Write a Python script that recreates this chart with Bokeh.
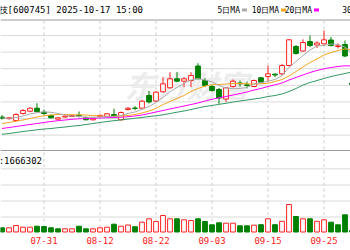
from bokeh.plotting import figure
from bokeh.models import Range1d, ColumnDataSource
from bokeh.core.properties import value
from bokeh.embed import file_html
from bokeh.resources import INLINE

# ---------------- data ----------------
dates = ["07-23", "07-24", "07-25", "07-28", "07-29", "07-30", "07-31", "08-01", "08-04", "08-05",
         "08-06", "08-07", "08-08", "08-11", "08-12", "08-13", "08-14", "08-15", "08-18", "08-19",
         "08-20", "08-21", "08-22", "08-25", "08-26", "08-27", "08-28", "08-29", "09-01", "09-02",
         "09-03", "09-04", "09-05", "09-08", "09-09", "09-10", "09-11", "09-12", "09-15", "09-16",
         "09-17", "09-18", "09-19", "09-22", "09-23", "09-24", "09-25", "09-26", "09-29", "09-30",
         "10-09"]

open_ = [33.90, 33.56, 33.20, 34.60, 35.06, 35.66, 34.86, 34.20, 33.46, 33.90,
         34.00, 34.26, 33.74, 33.34, 34.00, 34.00, 34.40, 33.34, 35.40, 35.70,
         35.66, 38.20, 37.10, 38.94, 39.74, 41.54, 41.06, 41.20, 44.10, 41.20,
         40.00, 39.40, 37.50, 40.00, 40.70, 40.34, 40.00, 41.74, 42.00, 42.46,
         42.54, 44.20, 48.00, 47.10, 49.00, 48.30, 48.54, 49.30, 48.00, 48.40,
         40.70]
high = [34.26, 33.90, 34.66, 35.50, 35.86, 36.66, 35.40, 34.40, 33.86, 34.20,
        34.30, 35.00, 33.86, 33.80, 34.40, 34.66, 35.54, 35.00, 35.86, 36.06,
        37.30, 39.10, 39.10, 41.86, 42.86, 42.86, 41.86, 42.86, 44.66, 41.66,
        40.40, 39.70, 39.90, 41.40, 41.20, 41.00, 41.40, 41.86, 44.20, 42.66,
        44.54, 49.50, 48.30, 49.44, 50.20, 49.06, 51.20, 49.90, 48.66, 49.20,
        40.80]
low = [33.40, 33.40, 33.00, 34.40, 34.86, 34.80, 34.26, 33.60, 33.34, 33.80,
       33.90, 33.80, 33.26, 33.20, 33.80, 33.90, 33.86, 33.20, 35.20, 35.26,
       35.54, 36.60, 36.90, 38.80, 39.60, 40.86, 39.86, 39.86, 41.46, 39.86,
       39.00, 36.54, 36.90, 39.80, 40.00, 39.60, 39.86, 40.80, 41.00, 41.86,
       42.20, 44.00, 46.40, 47.00, 47.86, 47.70, 48.40, 48.00, 47.60, 45.86,
       40.30]
close = [33.60, 33.76, 34.40, 35.20, 35.66, 34.96, 34.60, 33.74, 33.74, 34.06,
         34.20, 34.14, 33.34, 33.66, 34.24, 34.54, 34.00, 34.80, 35.66, 35.60,
         37.06, 36.90, 38.86, 40.54, 41.54, 41.06, 41.54, 42.20, 41.54, 40.20,
         39.20, 37.70, 39.74, 41.06, 40.54, 40.20, 41.20, 40.86, 42.54, 42.30,
         44.20, 49.34, 46.60, 48.80, 48.20, 48.70, 49.34, 48.20, 48.14, 46.10,
         40.40]

ma5 = [33.70, 33.64, 33.80, 34.10, 34.50, 34.76, 34.94, 34.84, 34.60, 34.30,
       34.10, 34.00, 33.88, 33.84, 33.90, 33.98, 34.00, 34.20, 34.60, 34.90,
       35.44, 36.00, 36.80, 37.80, 38.94, 39.80, 40.60, 41.30, 41.60, 41.30,
       40.94, 40.20, 39.70, 39.56, 39.60, 39.80, 40.50, 40.76, 41.06, 41.40,
       42.20, 43.80, 45.00, 46.20, 47.30, 48.10, 48.20, 48.50, 48.40, 47.90,
       46.60]
ma10 = [32.60, 32.80, 33.06, 33.30, 33.60, 33.90, 34.16, 34.30, 34.40, 34.40,
        34.36, 34.34, 34.30, 34.20, 34.10, 34.04, 34.04, 34.10, 34.20, 34.40,
        34.70, 35.10, 35.60, 36.40, 37.00, 37.60, 38.20, 39.00, 39.60, 40.10,
        40.36, 40.40, 40.50, 40.60, 40.60, 40.54, 40.50, 40.56, 40.64, 41.00,
        41.40, 42.10, 43.00, 43.90, 44.80, 45.50, 46.30, 46.80, 47.20, 47.54,
        47.30]
ma20 = [31.60, 31.80, 32.00, 32.20, 32.40, 32.60, 32.80, 33.00, 33.16, 33.30,
        33.44, 33.54, 33.60, 33.64, 33.70, 33.76, 33.80, 33.86, 33.96, 34.10,
        34.30, 34.60, 34.90, 35.20, 35.50, 35.80, 36.10, 36.40, 36.70, 37.10,
        37.44, 37.74, 38.00, 38.30, 38.60, 38.90, 39.30, 39.60, 40.00, 40.34,
        40.70, 41.30, 41.80, 42.30, 42.80, 43.20, 43.54, 43.80, 44.00, 44.14,
        44.10]
ma30 = [30.44, 30.60, 30.80, 31.00, 31.16, 31.34, 31.50, 31.60, 31.76, 31.90,
        32.06, 32.20, 32.40, 32.60, 32.80, 33.00, 33.16, 33.32, 33.48, 33.64,
        33.80, 34.00, 34.14, 34.34, 34.60, 34.86, 35.10, 35.40, 35.70, 36.00,
        36.20, 36.44, 36.64, 36.90, 37.10, 37.30, 37.50, 37.70, 38.00, 38.20,
        38.50, 39.00, 39.60, 40.30, 40.80, 41.20, 41.60, 42.00, 42.30, 42.60,
        42.90]

volume = [252000, 252000, 390000, 288000, 288000, 348000, 330000, 252000, 192000, 192000,
          192000, 348000, 192000, 192000, 252000, 288000, 468000, 348000, 420000, 318000,
          588000, 792000, 630000, 990000, 792000, 792000, 732000, 690000, 792000, 630000,
          432000, 552000, 528000, 528000, 372000, 372000, 408000, 438000, 792000, 438000,
          642000, 1650000, 930000, 792000, 792000, 642000, 732000, 588000, 432000, 1032000,
          90000]
vol_up = [0, 1, 1, 1, 1, 0, 0, 0, 0, 1,
          1, 0, 0, 1, 1, 1, 0, 1, 1, 0,
          1, 1, 1, 1, 1, 0, 1, 1, 0, 0,
          0, 0, 1, 1, 0, 0, 1, 0, 1, 0,
          1, 1, 0, 1, 0, 1, 1, 0, 0, 0,
          0]

tick_labels = ["07-31", "08-12", "08-22", "09-03", "09-15", "09-25"]
header_text = "闻泰科技[600745] 2025-10-17 15:00"
volume_text = "成交量:1666302"
legend_names = ["5日MA", "10日MA", "20日MA", "30日MA"]

# ---------------- styles / layout ----------------
W, H = 350, 250
RED = "#ff2020"
GREEN = "#008000"
MA_COLORS = ["#aaaaaa", "#f5a623", "#ff00ff", "#339966"]
FONT = value("DejaVu Sans Mono")
BAR_PX = 7.0          # pixels per trading day
X0_PX = 1.5           # pixel of first bar
PX_PER_YUAN = 5.0
PRICE_AT_TOP = 57.2
VOL_BASE_PX = 231.5
VOL_PER_PX = 60000.0

p = figure(width=W, height=H, output_backend="svg", toolbar_location=None,
           x_axis_type=None, y_axis_type=None, min_border=0,
           x_range=Range1d(-X0_PX / BAR_PX, (W - X0_PX) / BAR_PX),
           y_range=Range1d(PRICE_AT_TOP - H / PX_PER_YUAN, PRICE_AT_TOP))
p.outline_line_color = None
p.grid.visible = False
p.background_fill_color = "white"
p.border_fill_color = "white"
p.extra_y_ranges = {"px": Range1d(H, 0),
                    "vol": Range1d(-(H - VOL_BASE_PX) * VOL_PER_PX, VOL_BASE_PX * VOL_PER_PX)}
p.extra_x_ranges = {"pxx": Range1d(0, W)}

# horizontal grid lines (pixel layout)
grid_y = [35 + 16.6 * k for k in range(7)] + [168.3, 184.5, 200.5, 216.5]
p.segment(x0=[0] * len(grid_y), x1=[W] * len(grid_y), y0=grid_y, y1=grid_y,
          line_color="#dadada", line_width=1, x_range_name="pxx", y_range_name="px")
p.segment(x0=[0, 0], x1=[W, W], y0=[19.5, 150], y1=[19.5, 150],
          line_color="#9a9a9a", line_width=1, x_range_name="pxx", y_range_name="px")

# vertical dashed date lines
tick_pos = [dates.index(t) for t in tick_labels]
p.segment(x0=tick_pos, x1=tick_pos, y0=[20] * len(tick_pos), y1=[232] * len(tick_pos),
          line_color="#cccccc", line_width=1, line_dash="3 3", y_range_name="px")

# watermark
p.text(x=[124], y=[84], text=["东方财富"], x_range_name="pxx", y_range_name="px",
       text_font=value("Noto Sans CJK SC"), text_font_size="31px", text_font_style="bold italic",
       text_color="#ececec", text_baseline="middle", text_align="left")

# candles
idx = list(range(len(dates)))
is_up = [c >= o for o, c in zip(open_, close)]
csrc = ColumnDataSource(dict(
    x=idx, h=high, l=low,
    top=[max(o, c) for o, c in zip(open_, close)],
    bot=[min(o, c) for o, c in zip(open_, close)],
    col=[RED if u else GREEN for u in is_up],
    fill=["white" if u else GREEN for u in is_up]))
p.segment(x0="x", y0="h", x1="x", y1="l", line_color="col", line_width=1, source=csrc)
p.vbar(x="x", width=0.68, top="top", bottom="bot", fill_color="fill", line_color="col",
       line_width=1, source=csrc)

# moving averages
for series, colr in zip([ma30, ma20, ma10, ma5], MA_COLORS[::-1]):
    p.line(idx, series, line_color=colr, line_width=1)

# volume bars
vsrc = ColumnDataSource(dict(
    x=idx, v=volume,
    col=[RED if u else GREEN for u in vol_up],
    fill=["white" if u else GREEN for u in vol_up]))
p.vbar(x="x", width=0.68, top="v", bottom=0, fill_color="fill", line_color="col",
       line_width=1, source=vsrc, y_range_name="vol")

# texts
p.text(x=[142.5], y=[9.5], text=[header_text], x_range_name="pxx", y_range_name="px",
       text_font=FONT, text_font_size="9px", text_color="#000000",
       text_baseline="middle", text_align="right")
p.text(x=[41.5], y=[160], text=[volume_text], x_range_name="pxx", y_range_name="px",
       text_font=FONT, text_font_size="9px", text_color="#000000",
       text_baseline="middle", text_align="right")
p.text(x=tick_pos, y=[240] * len(tick_pos), text=tick_labels, y_range_name="px",
       text_font=FONT, text_font_size="9px", text_color=RED,
       text_baseline="middle", text_align="center")

# legend: each name ends just before its colour mark
leg_mark_x = [241.5, 280.5, 313.5, 371.0]
p.text(x=[m - 2 for m in leg_mark_x], y=[9.5] * 4, text=legend_names,
       x_range_name="pxx", y_range_name="px",
       text_font=FONT, text_font_size="8px", text_color="#000000",
       text_baseline="middle", text_align="right")
p.quad(left=leg_mark_x, right=[m + 5 for m in leg_mark_x], top=[8] * 4, bottom=[11] * 4,
       fill_color=MA_COLORS, line_color=None, x_range_name="pxx", y_range_name="px")

open("out.html", "w").write(file_html(p, INLINE))
